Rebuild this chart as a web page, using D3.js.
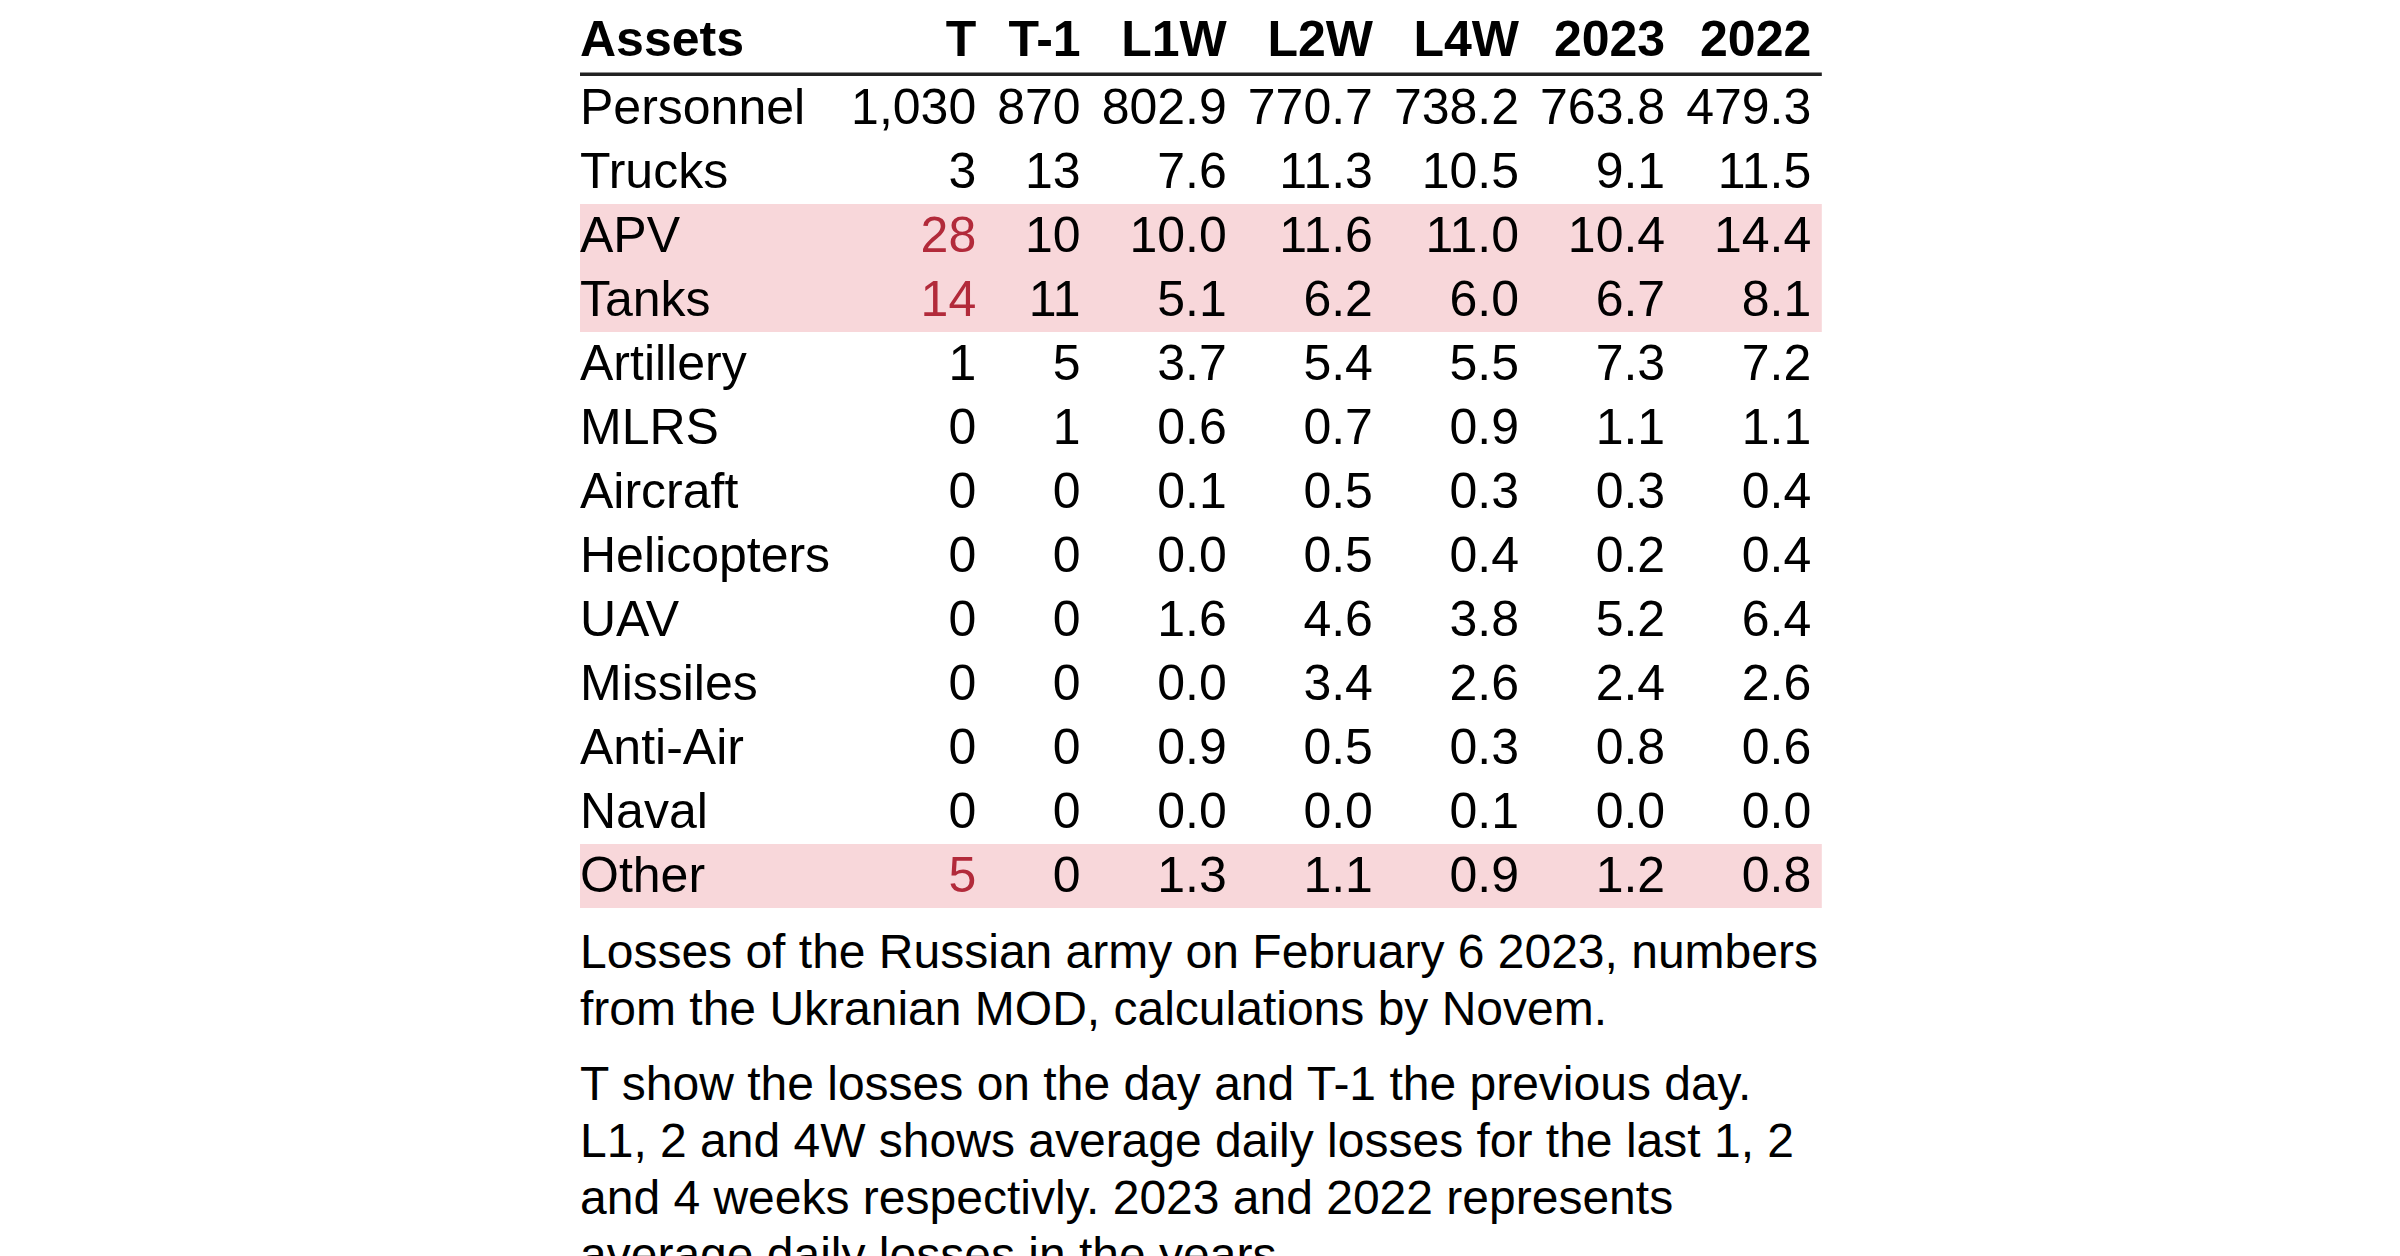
<!DOCTYPE html>
<html>
<head>
<meta charset="utf-8">
<script src="https://cdn.jsdelivr.net/npm/d3@7"></script>
<style>
  html, body { margin: 0; padding: 0; background: #fff; }
  svg { display: block; }
  text { font-family: "Liberation Sans", Arial, Helvetica, sans-serif; }
</style>
</head>
<body>
<svg id="chart" width="2400" height="1256"></svg>
<script>
// table data
var assets = ["Personnel", "Trucks", "APV", "Tanks", "Artillery", "MLRS", "Aircraft",
  "Helicopters", "UAV", "Missiles", "Anti-Air", "Naval", "Other"];
var colT   = [1030, 3, 28, 14, 1, 0, 0, 0, 0, 0, 0, 0, 5];
var colT1  = [870, 13, 10, 11, 5, 1, 0, 0, 0, 0, 0, 0, 0];
var colL1W = [802.9, 7.6, 10.0, 5.1, 3.7, 0.6, 0.1, 0.0, 1.6, 0.0, 0.9, 0.0, 1.3];
var colL2W = [770.7, 11.3, 11.6, 6.2, 5.4, 0.7, 0.5, 0.5, 4.6, 3.4, 0.5, 0.0, 1.1];
var colL4W = [738.2, 10.5, 11.0, 6.0, 5.5, 0.9, 0.3, 0.4, 3.8, 2.6, 0.3, 0.1, 0.9];
var col2023 = [763.8, 9.1, 10.4, 6.7, 7.3, 1.1, 0.3, 0.2, 5.2, 2.4, 0.8, 0.0, 1.2];
var col2022 = [479.3, 11.5, 14.4, 8.1, 7.2, 1.1, 0.4, 0.4, 6.4, 2.6, 0.6, 0.0, 0.8];
var headers = ["Assets", "T", "T-1", "L1W", "L2W", "L4W", "2023", "2022"];
var highlighted = ["APV", "Tanks", "Other"];

var captionParas = [
  ["Losses of the Russian army on February 6 2023, numbers",
   "from the Ukranian MOD, calculations by Novem."],
  ["T show the losses on the day and T-1 the previous day.",
   "L1, 2 and 4W shows average daily losses for the last 1, 2",
   "and 4 weeks respectivly. 2023 and 2022 represents",
   "average daily losses in the years."]
];

var fmtInt = d3.format(",");
var fmtDec = d3.format(",.1f");

// columns of cell strings
var columns = [
  assets,
  colT.map(fmtInt),
  colT1.map(fmtInt),
  colL1W.map(fmtDec),
  colL2W.map(fmtDec),
  colL4W.map(fmtDec),
  col2023.map(fmtDec),
  col2022.map(fmtDec)
];

var svg = d3.select("#chart");

var fontSize = 50;
var capSize = 48;
var x0 = 580;
var gap = 21;
var rowH = 64;
var tableTop = 76;

// measure column widths like an auto table layout
var probe = svg.append("text").style("font-size", fontSize + "px");
function textWidth(s, bold) {
  probe.style("font-weight", bold ? "bold" : "normal").text(s);
  return probe.node().getComputedTextLength();
}
var widths = columns.map(function(col, i) {
  var w = textWidth(headers[i], true);
  col.forEach(function(s) { w = Math.max(w, textWidth(s, false)); });
  return w;
});
probe.remove();

var edges = [];
var acc = x0;
widths.forEach(function(w, i) {
  edges.push(i == 0 ? acc : acc + w);   // left edge for first, right edge for others
  acc += w + gap;
});
var tableRight = acc - gap + gap / 2;

var xCol = d3.scaleOrdinal().domain(headers).range(edges);
var yRow = d3.scaleBand().domain(assets).range([tableTop, tableTop + rowH * assets.length]);

// highlight bands
svg.append("g").selectAll("rect.band")
  .data(highlighted)
  .join("rect")
  .classed("band", true)
  .attr("x", x0)
  .attr("width", tableRight - x0)
  .attr("y", d => yRow(d))
  .attr("height", yRow.bandwidth())
  .style("fill", "#f8d7da");

// header
svg.append("g").selectAll("text.head")
  .data(headers)
  .join("text")
  .classed("head", true)
  .attr("x", d => xCol(d))
  .attr("y", 56)
  .attr("text-anchor", (d, i) => i == 0 ? "start" : "end")
  .style("font-size", fontSize + "px")
  .style("font-weight", "bold")
  .style("fill", "#000")
  .text(d => d);

svg.append("rect")
  .attr("x", x0)
  .attr("y", 72.5)
  .attr("width", tableRight - x0)
  .attr("height", 3.5)
  .style("fill", "#222");

// body cells
var cells = [];
columns.forEach(function(col, ci) {
  col.forEach(function(s, ri) {
    cells.push({ col: headers[ci], ci: ci, row: assets[ri], text: s });
  });
});

svg.append("g").selectAll("text.cell")
  .data(cells)
  .join("text")
  .classed("cell", true)
  .attr("x", d => xCol(d.col))
  .attr("y", d => yRow(d.row) + 47.5)
  .attr("text-anchor", d => d.ci == 0 ? "start" : "end")
  .style("font-size", fontSize + "px")
  .style("fill", d => (d.ci == 1 && highlighted.indexOf(d.row) > -1) ? "#b22a3a" : "#000")
  .text(d => d.text);

// caption under the table
var capLines = [];
var base = 968;
captionParas.forEach(function(para, pi) {
  para.forEach(function(line, li) {
    capLines.push({ text: line, y: base });
    base += 57;
  });
  base += 18;
});

svg.append("g").selectAll("text.caption")
  .data(capLines)
  .join("text")
  .classed("caption", true)
  .attr("x", x0)
  .attr("y", d => d.y)
  .style("font-size", capSize + "px")
  .style("fill", "#000")
  .text(d => d.text);
</script>
</body>
</html>
